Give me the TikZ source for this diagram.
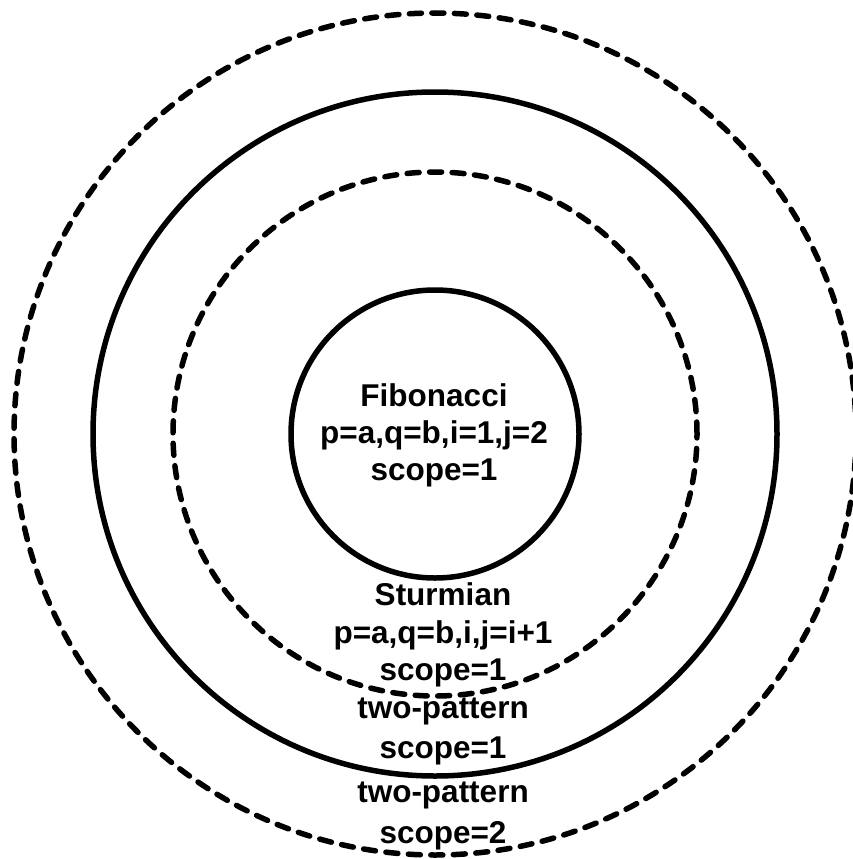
\documentclass[tikz,border=0pt]{standalone}
\usepackage{fontspec}
\setmainfont{Liberation Sans}
\usepackage{tikz}

\begin{document}
\begin{tikzpicture}[x=1pt,y=-1pt]
            \tikzstyle{every node}+=[inner sep=0pt, anchor=base, font=\bfseries\fontsize{31.5}{38}\selectfont]
            \tikzstyle{ring}=[black, line width=5.5pt]
            \tikzstyle{dashring}=[ring, line cap=round, dash pattern=on 12pt off 10.5pt]
            \useasboundingbox (0,0) rectangle (853,859);
            \coordinate (c) at (435,434);
            \draw [ring] (c) circle (144pt);
            \draw [dashring] (c) circle (262pt);
            \draw [ring] (c) circle (342pt);
            \draw [dashring] (c) circle (421pt);
            \node (fib1) at (434,406) {Fibonacci};
            \node (fib2) at (434,443) {p=a,q=b,i=1,j=2};
            \node (fib3) at (434,480) {scope=1};
            \node (stu1) at (443,605) {Sturmian};
            \node (stu2) at (443,643) {p=a,q=b,i,j=i+1};
            \node (stu3) at (443,680) {scope=1};
            \node (twoa1) at (443,718) {two-pattern};
            \node (twoa2) at (443,758) {scope=1};
            \node (twob1) at (443,802) {two-pattern};
            \node (twob2) at (443,843) {scope=2};
\end{tikzpicture}
\end{document}
